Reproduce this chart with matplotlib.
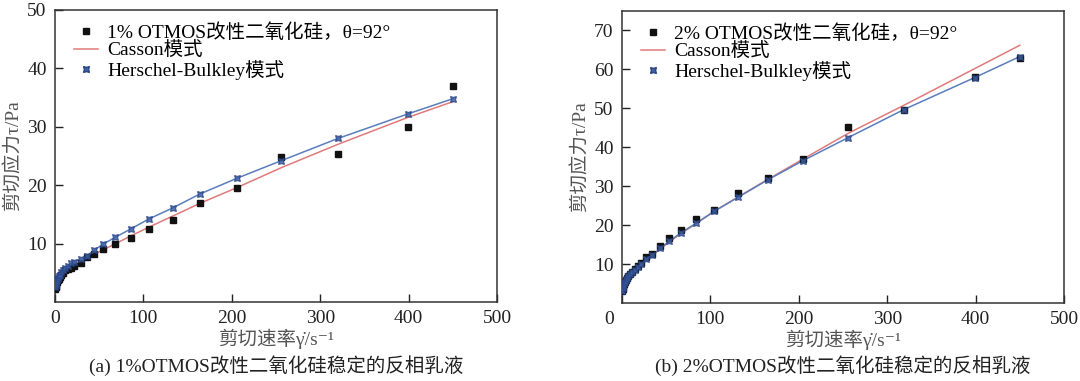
import matplotlib
matplotlib.use("Agg")
import matplotlib.pyplot as plt
import matplotlib.transforms as mtransforms
from matplotlib.lines import Line2D

plt.rcParams["font.family"] = ["Liberation Serif", "DejaVu Serif", "Noto Sans CJK SC"]
plt.rcParams["font.size"] = 14

# (a) 1% OTMOS
rate_1 = [0.3, 0.6, 1.0, 1.5, 2.2, 3.0, 4.0, 5.3, 7.0, 9.0, 11.5, 14.5, 18, 22, 29, 36,
          44.6, 54.3, 68.4, 85.6, 106, 133, 164, 206, 256, 320, 399, 450]
exp_1 = [2.2, 2.5, 2.8, 3.1, 3.4, 3.7, 4.0, 4.3, 4.7, 5.0, 5.4, 5.7, 5.8, 6.2, 6.7, 7.7,
         8.3, 9.0, 10.0, 11.0, 12.5, 14.0, 17.0, 19.5, 24.9, 25.3, 30.0, 37.0]
casson_1 = [2.3, 2.5, 2.7, 3.0, 3.2, 3.5, 3.8, 4.1, 4.5, 4.9, 5.3, 5.7, 6.1, 6.4, 6.9, 7.5,
            8.2, 8.9, 10.0, 11.3, 12.8, 14.7, 16.9, 19.6, 23.0, 27.0, 31.6, 34.3]
hb_1 = [2.6, 2.9, 3.2, 3.5, 3.8, 4.1, 4.4, 4.7, 5.1, 5.5, 5.8, 6.2, 6.6, 6.9, 7.4, 7.9,
        8.9, 9.9, 11.1, 12.5, 14.2, 16.1, 18.5, 21.2, 24.2, 28.0, 32.2, 34.8]

# (b) 2% OTMOS
rate_2 = [0.3, 0.6, 1.0, 1.5, 2.2, 3.0, 4.0, 5.3, 7.0, 9.0, 11.5, 14.5, 18, 21.6, 27.4, 34.5,
          42.7, 53.7, 67, 83.9, 104.6, 131.7, 164.6, 205, 256, 319, 399, 450]
exp_2 = [3.0, 3.6, 4.1, 4.6, 5.0, 5.4, 5.8, 6.3, 6.9, 7.4, 8.0, 8.7, 9.4, 10.4, 11.7, 12.6,
         14.6, 16.7, 18.8, 21.7, 23.8, 28.2, 32.1, 37.1, 45.2, 49.7, 58.1, 63.0]
casson_2 = [3.2, 3.7, 4.1, 4.5, 4.9, 5.3, 5.7, 6.2, 6.7, 7.3, 7.9, 8.5, 9.2, 9.8, 10.9, 12.2,
            13.8, 15.7, 17.9, 20.4, 23.6, 27.3, 31.7, 37.0, 43.6, 50.8, 60.2, 66.2]
hb_2 = [3.2, 3.8, 4.3, 4.7, 5.1, 5.5, 5.9, 6.4, 6.9, 7.4, 8.0, 8.6, 9.2, 10.0, 11.2, 12.3,
        14.0, 15.9, 18.1, 20.5, 23.6, 27.2, 31.6, 36.6, 42.5, 49.7, 57.9, 63.3]

labels_1 = ["1% OTMOS改性二氧化硅，θ=92°", "Casson模式", "Herschel-Bulkley模式"]
labels_2 = ["2% OTMOS改性二氧化硅，θ=92°", "Casson模式", "Herschel-Bulkley模式"]
captions = ["(a) 1%OTMOS改性二氧化硅稳定的反相乳液", "(b) 2%OTMOS改性二氧化硅稳定的反相乳液"]
xticks = [0, 100, 200, 300, 400, 500]
yticks_1 = [10, 20, 30, 40, 50]
yticks_2 = [10, 20, 30, 40, 50, 60, 70]

RED = "#e07a7a"
BLUE = "#5a7dbd"
HB_MK = "#3d5fa6"

fig = plt.figure(figsize=(10.8, 3.81), dpi=100)
ax1 = fig.add_axes([55 / 1080, 1 - 302 / 381, 442 / 1080, 292 / 381])
ax2 = fig.add_axes([622 / 1080, 1 - 303 / 381, 442 / 1080, 292 / 381])


def draw_panel(ax, rate, exp, casson, hb, labels, ylim, yticks, caption):
    ax.plot(rate, casson, color=RED, lw=1.1, zorder=2)
    ax.plot(rate, hb, color=BLUE, lw=1.1, zorder=2)
    ax.plot(rate, exp, ls="none", marker="s", ms=4, color="#111111", zorder=3)
    ax.plot(rate, hb, ls="none", marker=(4, 1, 45), ms=6, color=HB_MK,
            mec="#2a4585", mew=0.8, alpha=0.85, zorder=4)

    ax.set_xlim(0, 500)
    ax.set_ylim(*ylim)
    ax.set_xticks(xticks)
    ax.set_yticks(yticks)
    ax.tick_params(direction="in", length=5.5, width=1.0, pad=6, labelsize=14,
                   colors="#222222")
    for s in ax.spines.values():
        s.set_linewidth(1.1)
        s.set_color("#333333")

    ax.set_xlabel("剪切速率γ̇/s⁻¹", color="#555555", fontsize=14)
    ax.xaxis.label.set_va("center")
    ax.xaxis.set_label_coords(0.5, -0.125)
    ax.set_ylabel("剪切应力τ/Pa", color="#555555", fontsize=14)
    ax.yaxis.label.set_va("center")
    ax.yaxis.set_label_coords(-0.094, 0.5)

    handles = [
        Line2D([], [], ls="none", marker="s", ms=4, color="#111111"),
        Line2D([], [], color=RED, lw=1.1),
        Line2D([], [], ls="none", marker=(4, 1, 45), ms=6, color=HB_MK, mec="#2a4585"),
    ]
    ax.legend(handles, labels, loc="upper left", bbox_to_anchor=(0.043, 0.954),
              frameon=False, fontsize=14, handlelength=1.25, handletextpad=0.45,
              labelspacing=0.0, borderaxespad=0, borderpad=0)

    bb = ax.get_position()
    fig.text((bb.x0 + bb.x1) / 2, 1 - 366 / 381, caption, ha="center", va="center",
             fontsize=14, color="#222222")


draw_panel(ax1, rate_1, exp_1, casson_1, hb_1, labels_1, (0, 50), yticks_1, captions[0])
draw_panel(ax2, rate_2, exp_2, casson_2, hb_2, labels_2, (0, 75), yticks_2, captions[1])

# the "0" under panel (b) sits left of the axis
lab0 = ax2.xaxis.get_major_ticks()[0].label1
lab0.set_transform(lab0.get_transform() +
                   mtransforms.ScaledTranslation(-13 / 100, 0, fig.dpi_scale_trans))

fig.savefig("out.png", dpi=100, facecolor="white")
